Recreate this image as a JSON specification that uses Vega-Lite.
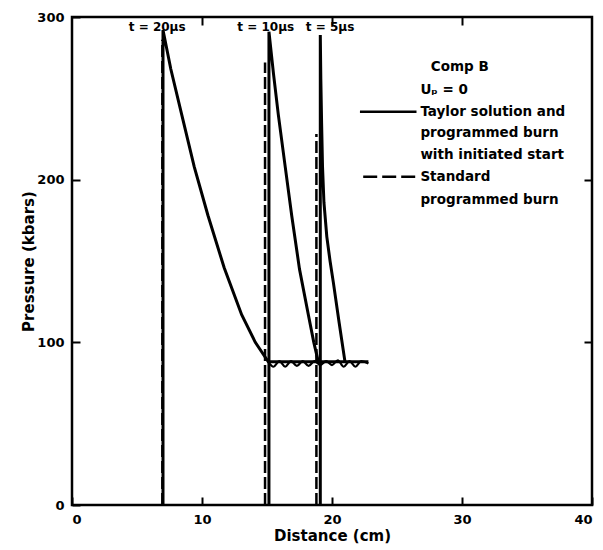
{
  "$schema": "https://vega.github.io/schema/vega-lite/v6.json",
  "width": 520,
  "height": 488,
  "autosize": {"type": "none"},
  "padding": {"left": 72, "top": 17, "right": 11, "bottom": 45},
  "background": "white",
  "config": {
    "view": {"stroke": "black", "strokeWidth": 2.5},
    "font": "DejaVu Sans",
    "axis": {"grid": false, "domain": false, "tickColor": "black", "tickWidth": 2, "tickSize": -8, "labelColor": "black", "labelFont": "DejaVu Sans", "labelFontWeight": "bold", "labelFontSize": 13, "titleColor": "black", "titleFont": "DejaVu Sans", "titleFontWeight": "bold", "titleFontSize": 15}
  },
  "datasets": {
    "taylor": [
      {"curve": "t20", "i": 0, "x": 7.0, "p": 0},
      {"curve": "t20", "i": 1, "x": 7.0, "p": 292},
      {"curve": "t20", "i": 2, "x": 7.6, "p": 268},
      {"curve": "t20", "i": 3, "x": 8.44, "p": 240},
      {"curve": "t20", "i": 4, "x": 9.4, "p": 208},
      {"curve": "t20", "i": 5, "x": 10.46, "p": 178},
      {"curve": "t20", "i": 6, "x": 11.7, "p": 146},
      {"curve": "t20", "i": 7, "x": 13.05, "p": 117},
      {"curve": "t20", "i": 8, "x": 14.1, "p": 100},
      {"curve": "t20", "i": 9, "x": 15.1, "p": 88},
      {"curve": "t20", "i": 10, "x": 22.8, "p": 88},
      {"curve": "t10", "i": 0, "x": 15.15, "p": 0},
      {"curve": "t10", "i": 1, "x": 15.15, "p": 291},
      {"curve": "t10", "i": 2, "x": 15.5, "p": 265},
      {"curve": "t10", "i": 3, "x": 15.87, "p": 240},
      {"curve": "t10", "i": 4, "x": 16.4, "p": 208},
      {"curve": "t10", "i": 5, "x": 16.9, "p": 178},
      {"curve": "t10", "i": 6, "x": 17.5, "p": 145},
      {"curve": "t10", "i": 7, "x": 18.18, "p": 117},
      {"curve": "t10", "i": 8, "x": 18.6, "p": 100},
      {"curve": "t10", "i": 9, "x": 18.95, "p": 88},
      {"curve": "t5", "i": 0, "x": 19.1, "p": 0},
      {"curve": "t5", "i": 1, "x": 19.1, "p": 289},
      {"curve": "t5", "i": 2, "x": 19.14, "p": 262},
      {"curve": "t5", "i": 3, "x": 19.2, "p": 235},
      {"curve": "t5", "i": 4, "x": 19.27, "p": 208},
      {"curve": "t5", "i": 5, "x": 19.38, "p": 186},
      {"curve": "t5", "i": 6, "x": 19.6, "p": 165},
      {"curve": "t5", "i": 7, "x": 19.85, "p": 150},
      {"curve": "t5", "i": 8, "x": 20.1, "p": 137},
      {"curve": "t5", "i": 9, "x": 20.55, "p": 112},
      {"curve": "t5", "i": 10, "x": 21.0, "p": 88}
    ],
    "standard": [
      {"curve": "s20", "i": 0, "x": 6.95, "p": 0},
      {"curve": "s20", "i": 1, "x": 6.95, "p": 286},
      {"curve": "s10", "i": 0, "x": 14.85, "p": 0},
      {"curve": "s10", "i": 1, "x": 14.85, "p": 272},
      {"curve": "s5", "i": 0, "x": 18.8, "p": 0},
      {"curve": "s5", "i": 1, "x": 18.8, "p": 228}
    ],
    "wavy": [
      {"i": 0, "x": 15.1, "p": 88},
      {"i": 1, "x": 15.5, "p": 85},
      {"i": 2, "x": 15.95, "p": 88.5},
      {"i": 3, "x": 16.4, "p": 85},
      {"i": 4, "x": 16.85, "p": 88.5},
      {"i": 5, "x": 17.3, "p": 85.5},
      {"i": 6, "x": 17.75, "p": 88.5},
      {"i": 7, "x": 18.2, "p": 85.5},
      {"i": 8, "x": 18.65, "p": 88.5},
      {"i": 9, "x": 19.1, "p": 86},
      {"i": 10, "x": 19.55, "p": 88.5},
      {"i": 11, "x": 20.0, "p": 86},
      {"i": 12, "x": 20.45, "p": 89},
      {"i": 13, "x": 20.9, "p": 85},
      {"i": 14, "x": 21.35, "p": 88.5},
      {"i": 15, "x": 21.8, "p": 85},
      {"i": 16, "x": 22.25, "p": 88.5},
      {"i": 17, "x": 22.8, "p": 87}
    ],
    "legendSolid": [
      {"x": 22.15, "p": 241.7},
      {"x": 26.5, "p": 241.7}
    ],
    "legendDashed": [
      {"x": 22.4, "p": 201.8},
      {"x": 26.5, "p": 201.8}
    ],
    "legendText": [
      {"x": 27.6, "p": 269.4, "label": "Comp B"},
      {"x": 26.8, "p": 255, "label": "Uₚ = 0"},
      {"x": 26.8, "p": 241.7, "label": "Taylor solution and"},
      {"x": 26.8, "p": 228.6, "label": "programmed burn"},
      {"x": 26.8, "p": 215, "label": "with initiated start"},
      {"x": 26.8, "p": 201.8, "label": "Standard"},
      {"x": 26.8, "p": 187.6, "label": "programmed burn"}
    ],
    "timeLabels": [
      {"x": 6.55, "p": 294, "label": "t = 20µs"},
      {"x": 14.9, "p": 294, "label": "t = 10µs"},
      {"x": 19.85, "p": 294, "label": "t = 5µs"}
    ]
  },
  "layer": [
    {
      "data": {"name": "taylor"},
      "mark": {"type": "line", "color": "black", "strokeWidth": 3},
      "encoding": {
        "x": {"field": "x", "type": "quantitative", "scale": {"domain": [0, 40], "nice": false, "zero": false}, "axis": {"orient": "bottom", "values": [0, 10, 20, 30, 40], "title": "Distance (cm)", "labelPadding": 16, "titlePadding": 2}},
        "y": {"field": "p", "type": "quantitative", "scale": {"domain": [0, 300], "nice": false}, "axis": {"orient": "left", "values": [0, 100, 200, 300], "title": "Pressure (kbars)", "labelPadding": 16, "titlePadding": 0}},
        "detail": {"field": "curve"},
        "order": {"field": "i", "type": "quantitative"}
      }
    },
    {
      "data": {"name": "standard"},
      "mark": {"type": "line", "color": "black", "strokeWidth": 2.5, "strokeDash": [12, 4]},
      "encoding": {
        "x": {"field": "x", "type": "quantitative", "axis": null},
        "y": {"field": "p", "type": "quantitative", "axis": null},
        "detail": {"field": "curve"},
        "order": {"field": "i", "type": "quantitative"}
      }
    },
    {
      "data": {"name": "wavy"},
      "mark": {"type": "line", "color": "black", "strokeWidth": 2.2, "interpolate": "monotone"},
      "encoding": {
        "x": {"field": "x", "type": "quantitative", "axis": null},
        "y": {"field": "p", "type": "quantitative", "axis": null},
        "order": {"field": "i", "type": "quantitative"}
      }
    },
    {
      "data": {"name": "legendSolid"},
      "mark": {"type": "line", "color": "black", "strokeWidth": 2.5},
      "encoding": {
        "x": {"field": "x", "type": "quantitative", "axis": null},
        "y": {"field": "p", "type": "quantitative", "axis": null}
      }
    },
    {
      "data": {"name": "legendDashed"},
      "mark": {"type": "line", "color": "black", "strokeWidth": 2.5, "strokeDash": [14, 5]},
      "encoding": {
        "x": {"field": "x", "type": "quantitative", "axis": null},
        "y": {"field": "p", "type": "quantitative", "axis": null}
      }
    },
    {
      "data": {"name": "legendText"},
      "mark": {"type": "text", "color": "black", "font": "DejaVu Sans", "fontWeight": "bold", "fontSize": 13.5, "align": "left", "baseline": "middle"},
      "encoding": {
        "x": {"field": "x", "type": "quantitative", "axis": null},
        "y": {"field": "p", "type": "quantitative", "axis": null},
        "text": {"field": "label"}
      }
    },
    {
      "data": {"name": "timeLabels"},
      "mark": {"type": "text", "color": "black", "font": "DejaVu Sans", "fontWeight": "bold", "fontSize": 12, "align": "center", "baseline": "middle"},
      "encoding": {
        "x": {"field": "x", "type": "quantitative", "axis": {"orient": "top", "values": [10, 20, 30], "labels": false, "title": null}},
        "y": {"field": "p", "type": "quantitative", "axis": {"orient": "right", "values": [100, 200], "labels": false, "title": null}},
        "text": {"field": "label"}
      }
    }
  ],
  "resolve": {"axis": {"x": "independent", "y": "independent"}}
}
